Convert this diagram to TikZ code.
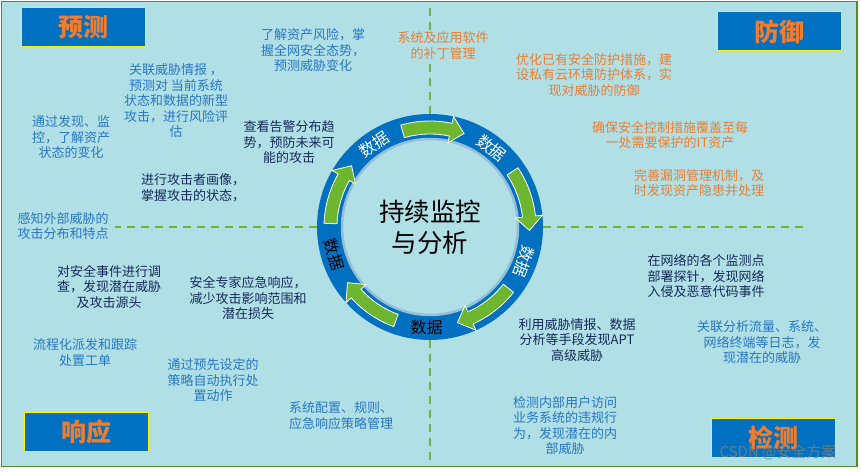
\documentclass[tikz,border=0pt]{standalone}
\usepackage{fontspec}
\newfontfamily\cjk{Noto Sans CJK SC}
\usetikzlibrary{positioning}
\definecolor{bgcyan}{RGB}{176,224,230}
\definecolor{framegreen}{RGB}{84,140,40}
\definecolor{ringblue}{RGB}{0,112,192}
\definecolor{ringedge}{RGB}{150,190,214}
\definecolor{arrowgreen}{RGB}{110,182,48}
\definecolor{txtblue}{RGB}{40,118,196}
\definecolor{txtnavy}{RGB}{22,40,90}
\definecolor{txtorange}{RGB}{237,125,49}

\tikzset{
  txt/.style={font=\cjk\fontsize{13}{15.5}\selectfont, align=center, inner sep=0pt},
  bluetxt/.style={txt, text=txtblue},
  navytxt/.style={txt, text=txtnavy},
  orangetxt/.style={txt, text=txtorange},
  titlebox/.style={rectangle, draw=yellow, fill=ringblue, line width=1pt, minimum width=124pt, minimum height=39pt, inner sep=0pt, font=\cjk\bfseries\fontsize{25}{30}\selectfont, text=txtorange},
  dashline/.style={arrowgreen, line width=2.5pt, dash pattern=on 8pt off 6pt},
  ringarrow/.style={fill=arrowgreen, draw=white, line width=0.8pt},
}

\begin{document}
\begin{tikzpicture}[x=1pt, y=1pt]

\useasboundingbox (0,0) rectangle (861,471);
\draw[framegreen, line width=1.5pt, fill=bgcyan] (1.5,4.5) rectangle (857,469.5);

% ring in the middle
\node[circle, fill=ringblue, minimum size=226pt, inner sep=0pt] (ring) at (430,244) {};

% dashed cross
\coordinate (topend) at (430,463);
\coordinate (botend) at (430,6);
\coordinate (leftend) at (115,244);
\coordinate (rightend) at (803,244);
\draw[dashline] (ring.north) -- (topend);
\draw[dashline] (ring.south) -- (botend);
\draw[dashline] (ring.west) -- (leftend);
\draw[dashline] (ring.east) -- (rightend);

\node[circle, fill=bgcyan, draw=ringedge, line width=2.5pt, minimum size=176pt, inner sep=0pt, align=center,
  font=\cjk\fontsize{25.5}{31}\selectfont] (core) at (ring) {持续监控\\与分析};

% green arrows going round
\begin{scope}[shift={(ring.center)}]
\foreach \a in {106,34,-38,-110,-182} {
  \path[ringarrow] (\a:106) arc[start angle=\a, end angle=\a-28, radius=106]
    -- (\a-28:113) -- (\a-36:99.5) -- (\a-28:86) -- (\a-28:93)
    arc[start angle=\a-28, end angle=\a, radius=93] -- cycle;
}
\foreach \ang/\rot/\col [count=\i] in {124/34/white, 52/-38/white, -20/-110/white, -92/0/black, -164/-74/black}
  \node[rotate=\rot, text=\col, inner sep=0pt, font=\cjk\fontsize{16}{18}\selectfont] (data\i) at (\ang:100) {数据};
\end{scope}

% title boxes
\node[titlebox] (predict) at (83,443.5) {预测};
\node[titlebox] (defend) at (779,439.5) {防御};
\node[titlebox] (respond) at (86.5,39) {响应};
\node[titlebox] (detect) at (773,33.5) {检测};

% predict
\node[bluetxt] (risk) at (313,420.5) {了解资产风险，掌\\握全网安全态势，\\预测威胁变化};
\node[bluetxt] (intel) at (176,370) {关联威胁情报 ，\\预测对 当前系统\\状态和数据的新型\\攻击，进行风险评\\估};
\node[bluetxt] (discover) at (71,333.5) {通过发现、监\\控，了解资产\\状态的变化};
\node[navytxt] (alarm) at (289,328.5) {查看告警分布趋\\势，预防未来可\\能的攻击};
\node[navytxt] (profile) at (193,283.5) {进行攻击者画像，\\掌握攻击的状态，};
\node[bluetxt] (perceive) at (63,245) {感知外部威胁的\\攻击分布和特点};

% defend
\node[orangetxt, fill=bgcyan, inner sep=2pt] (patch) at (443,425.5) {系统及应用软件\\的补丁管理};
\node[orangetxt] (optimize) at (594,396) {优化已有安全防护措施，建\\设私有云环境防护体系，实\\现对威胁的防御};
\node[orangetxt] (ensure) at (670,336) {确保安全控制措施覆盖至每\\一处需要保护的IT资产};
\node[orangetxt] (vuln) at (699,288) {完善漏洞管理机制，及\\时发现资产隐患并处理};

% respond
\node[navytxt] (investigate) at (109,184) {对安全事件进行调\\查，发现潜在威胁\\及攻击源头};
\node[navytxt] (expert) at (248,172.5) {安全专家应急响应，\\减少攻击影响范围和\\潜在损失};
\node[bluetxt] (ticket) at (85,118.5) {流程化派发和跟踪\\处置工单};
\node[bluetxt] (autoact) at (213,90.5) {通过预先设定的\\策略自动执行处\\置动作};
\node[bluetxt] (policy) at (341,55.5) {系统配置、规则、\\应急响应策略管理};

% detect
\node[navytxt] (probe) at (706,195) {在网络的各个监测点\\部署探针，发现网络\\入侵及恶意代码事件};
\node[navytxt] (apt) at (577,131) {利用威胁情报、数据\\分析等手段发现APT\\高级威胁};
\node[bluetxt] (correl) at (762,128.5) {关联分析流量、系统、\\网络终端等日志，发\\现潜在的威胁};
\node[bluetxt] (insider) at (565,45.5) {检测内部用户访问\\业务系统的违规行\\为，发现潜在的内\\部威胁};

\node[text=gray, opacity=0.8, inner sep=0pt, font=\cjk\fontsize{15}{18}\selectfont] (mark) at (778,19) {CSDN @安全方案};

\end{tikzpicture}
\end{document}
